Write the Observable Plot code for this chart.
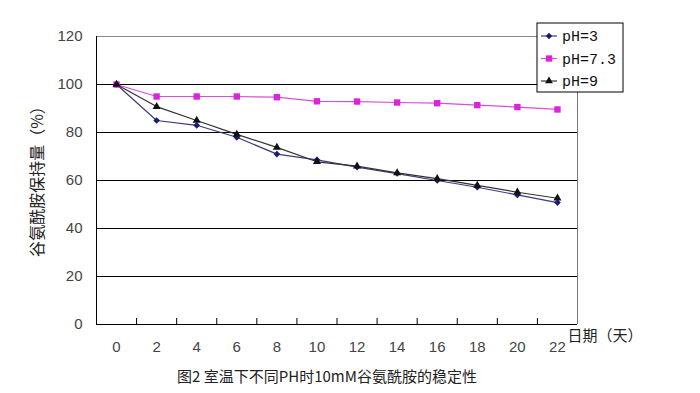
<!DOCTYPE html>
<html>
<head>
<meta charset="utf-8">
<script src="https://cdn.jsdelivr.net/npm/d3@7"></script>
<script src="https://cdn.jsdelivr.net/npm/@observablehq/plot@0.6"></script>
<style>
html, body { margin: 0; padding: 0; background: #fff; }
#chart svg { display: block; }
</style>
</head>
<body>
<div id="chart"></div>
<script>
const days = [0, 2, 4, 6, 8, 10, 12, 14, 16, 18, 20, 22];
const ph3  = [100, 85, 83, 78, 71, 68.6, 65.6, 62.9, 60, 57.2, 54, 50.8];
const ph73 = [100, 95, 95, 95, 94.7, 93.0, 92.9, 92.5, 92.2, 91.4, 90.6, 89.6];
const ph9  = [100, 90.8, 85, 79.2, 73.8, 67.8, 66, 63.2, 60.8, 58, 55.1, 52.6];
const seriesNames = ["pH=3", "pH=7.3", "pH=9"];
const seriesColors = ["#1a1a7a", "#dd22dd", "#111111"];
const lineColors = ["#3a3a80", "#d94fd9", "#333333"];
const seriesSymbols = ["diamond2", "square", "triangle"];
const yTicks = [0, 20, 40, 60, 80, 100, 120];
const yLabel = "谷氨酰胺保持量（%）";
const xLabel = "日期（天）";
const title = "图2 室温下不同PH时10mM谷氨酰胺的稳定性";

// category boundaries (Excel-style category axis: ticks between categories)
const bounds = days.slice(0, -1).map((d, i) => (d + days[i + 1]) / 2);
const xLo = days[0] - (days[1] - days[0]) / 2;
const xHi = days[days.length - 1] + (days[1] - days[0]) / 2;

const allSeries = [ph3, ph73, ph9];
const rows = [];
allSeries.forEach((vals, s) => vals.forEach((v, i) => rows.push({series: seriesNames[s], day: days[i], value: v})));

const cjk = "'Noto Sans CJK SC', sans-serif";
const num = "'Liberation Sans', Arial, sans-serif";

const marks = [
  Plot.ruleY(yTicks.filter(t => t > 0 && t < 120), {stroke: "#000", strokeWidth: 1}),
  Plot.ruleY([yTicks[yTicks.length - 1]], {stroke: "#888", strokeWidth: 1}),
  Plot.ruleX([xHi], {stroke: "#777", strokeWidth: 1}),
  Plot.ruleX([xLo], {stroke: "#000", strokeWidth: 1}),
  Plot.ruleY([0], {stroke: "#000", strokeWidth: 1}),
  Plot.axisX({ticks: bounds, tickSize: 6, dy: -6, tickFormat: () => "", stroke: "#000", label: null}),
  Plot.axisX({ticks: days, tickSize: 0, tickPadding: 17, fontSize: 15, fontFamily: num, fill: "#444", label: null}),
  Plot.axisY({ticks: yTicks, tickSize: 0, tickPadding: 14, fontSize: 15, fontFamily: num, fill: "#444", label: null}),
];
seriesNames.forEach((name, s) => {
  const data = rows.filter(r => r.series === name);
  marks.push(Plot.line(data, {x: "day", y: "value", stroke: lineColors[s], strokeWidth: 1.2}));
});
seriesNames.forEach((name, s) => {
  const data = rows.filter(r => r.series === name);
  marks.push(Plot.dot(data, {x: "day", y: "value", symbol: () => seriesSymbols[s], fill: seriesColors[s], stroke: "none", r: s === 1 ? 3.6 : 3}));
});
marks.push(
  Plot.text([yLabel], {frameAnchor: "left", textAnchor: "middle", dx: -59, dy: -3, rotate: -90, fontSize: 16, fontFamily: cjk, fill: "#222"}),
  Plot.text([xLabel], {frameAnchor: "bottom-right", dx: -10, dy: 16, textAnchor: "start", fontSize: 15, fontFamily: cjk, fill: "#222"}),
  Plot.text([title], {frameAnchor: "bottom", dx: -10, dy: 57, fontSize: 15, fontFamily: cjk, fill: "#222"})
);

const chart = Plot.plot({
  width: 700,
  height: 393,
  marginLeft: 96,
  marginRight: 123,
  marginTop: 36,
  marginBottom: 69,
  style: {background: "#fff", overflow: "visible"},
  x: {type: "linear", domain: [xLo, xHi], axis: null},
  y: {domain: [0, 120], axis: null},
  marks
});
document.getElementById("chart").appendChild(chart);

// legend box (Excel style), drawn on top of the plot
const svg = d3.select(chart);
const lg = svg.append("g").attr("transform", "translate(537,23)");
lg.append("rect").attr("width", 86).attr("height", 69).attr("fill", "#fff").attr("stroke", "#000").attr("stroke-width", 1);
const sym = {diamond2: d3.symbolDiamond2, square: d3.symbolSquare, triangle: d3.symbolTriangle};
seriesNames.forEach((name, s) => {
  const y = 13 + s * 22.5;
  const g = lg.append("g").attr("transform", `translate(0,${y})`);
  g.append("line").attr("x1", 4).attr("x2", 20).attr("y1", 0).attr("y2", 0).attr("stroke", lineColors[s]).attr("stroke-width", 1.2);
  g.append("path").attr("transform", "translate(12,0)").attr("d", d3.symbol(sym[seriesSymbols[s]], s === 1 ? 40 : 26)()).attr("fill", seriesColors[s]);
  g.append("text").attr("x", 25).attr("y", 0).attr("dy", "0.35em").attr("text-anchor", "start").attr("font-size", 15).attr("font-family", "'Liberation Mono', monospace").attr("fill", "#111").text(name);
});
</script>
</body>
</html>
